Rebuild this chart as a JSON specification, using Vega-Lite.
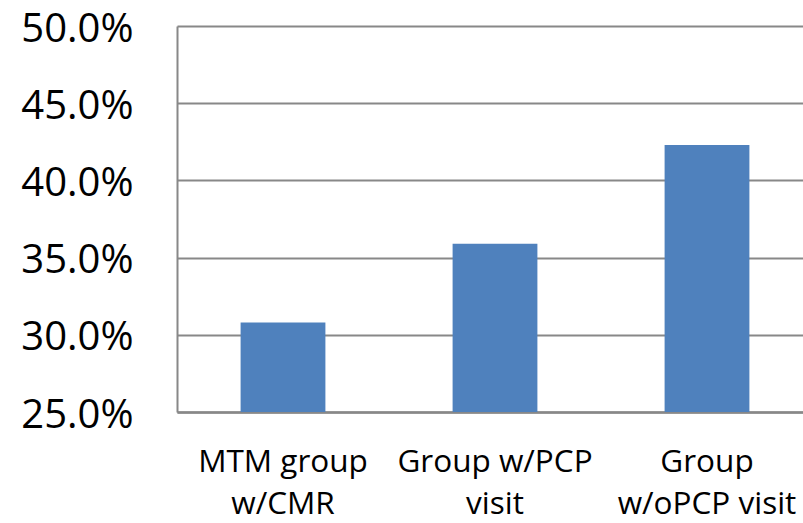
{
  "$schema": "https://vega.github.io/schema/vega-lite/v6.json",
  "autosize": "none",
  "padding": {"left": 177, "top": 26, "right": 0, "bottom": 111},
  "width": 636,
  "height": 386,
  "background": "white",
  "data": {
    "values": [
      {"group": "MTM group w/CMR", "rate": 0.308},
      {"group": "Group w/PCP visit", "rate": 0.359},
      {"group": "Group w/oPCP visit", "rate": 0.423}
    ]
  },
  "mark": {"type": "bar", "color": "#4F81BD", "clip": true},
  "encoding": {
    "x": {
      "field": "group",
      "type": "nominal",
      "sort": null,
      "scale": {"paddingInner": 0.6, "paddingOuter": 0.3},
      "axis": {
        "title": null,
        "labelAngle": 0,
        "labelExpr": "datum.value == 'MTM group w/CMR' ? ['MTM group', 'w/CMR'] : datum.value == 'Group w/PCP visit' ? ['Group w/PCP', 'visit'] : ['Group', 'w/oPCP visit']",
        "labelFont": "Open Sans",
        "labelFontSize": 31.5,
        "labelColor": "#000000",
        "labelLineHeight": 42,
        "labelPadding": 34,
        "labelBaseline": "top",
        "labelLimit": 0,
        "labelOverlap": false,
        "ticks": false,
        "domainColor": "#888888",
        "domainWidth": 2.5,
        "grid": false
      }
    },
    "y": {
      "field": "rate",
      "type": "quantitative",
      "scale": {"domain": [0.25, 0.5], "nice": false, "zero": false},
      "axis": {
        "title": null,
        "format": ".1%",
        "values": [0.25, 0.3, 0.35, 0.4, 0.45, 0.5],
        "labelFont": "Open Sans",
        "labelFontSize": 40,
        "labelColor": "#000000",
        "labelPadding": 44,
        "labelOffset": 3,
        "labelFlush": false,
        "ticks": false,
        "domainColor": "#888888",
        "domainWidth": 2,
        "gridColor": "#888888",
        "gridWidth": 2
      }
    }
  },
  "config": {"view": {"stroke": null}}
}
